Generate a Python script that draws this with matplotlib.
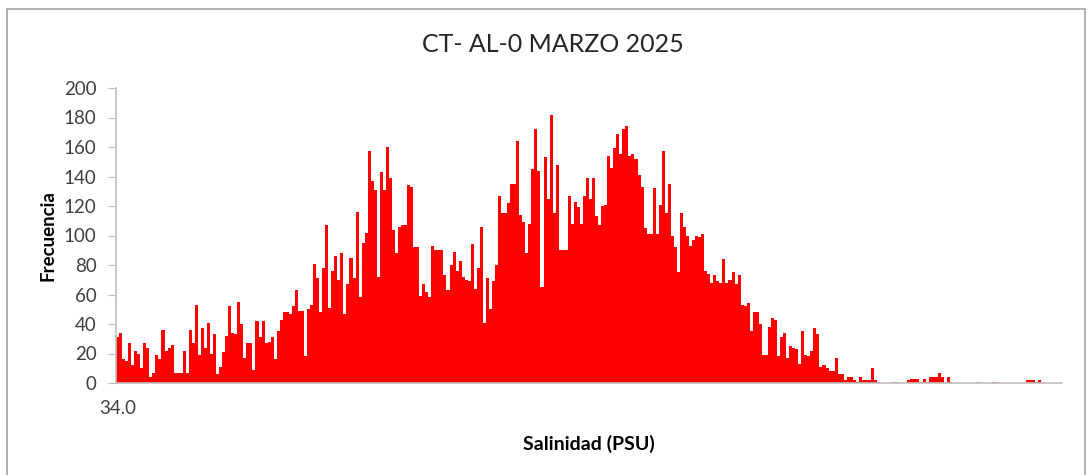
import numpy as np
import matplotlib.pyplot as plt
from matplotlib.patches import Rectangle

# Frequency of salinity values per bin, read left to right (first bin = 34.0)
seg_1 = [31, 34, 16, 15, 27, 12, 22, 20, 10, 27, 24, 4, 7, 19, 16, 36, 22, 24, 26, 7,
         7, 7, 22, 7, 36, 27, 53, 19, 37, 24, 41, 20, 33, 6, 11, 21, 32]
seg_2 = [52, 34, 33, 55, 40, 17, 27, 27, 9, 42, 31, 42, 27, 28, 31, 16, 35, 43, 48, 48,
         47, 52, 63, 49, 49, 18, 50, 53, 81, 71, 48, 78, 107, 51, 76, 86, 70, 88, 47, 67, 85]
seg_3 = [71, 116, 58, 95, 102, 157, 137, 131, 72, 143, 131, 160, 139, 104, 88, 106, 107,
         107, 134, 133, 92, 92, 59, 67, 62, 58, 93, 90, 90, 90, 73, 63, 80, 89, 76, 83, 72,
         70, 69, 94, 64]
seg_4 = [78, 106, 41, 71, 50, 69, 80, 127, 115, 115, 122, 135, 135, 164, 114, 109, 88,
         108, 145, 172, 144, 65, 153, 125, 182, 115, 148, 90, 90, 90, 127, 108, 123, 119,
         108, 127, 139, 125, 139, 113, 107]
seg_5 = [120, 121, 154, 146, 159, 169, 155, 172, 174, 154, 155, 152, 141, 133, 105, 101,
         101, 132, 101, 121, 157, 115, 135, 100, 92, 75, 115, 106, 100, 93, 97, 100, 99,
         101, 76, 74, 68, 73, 69, 68, 84, 68]
seg_6 = [70, 75, 67, 73, 53, 52, 54, 35, 48, 48, 40, 19, 19, 38, 44, 43, 18, 31, 34, 17,
         25, 24, 23, 13, 35, 19, 18, 22, 37, 33, 11, 12, 10, 8, 8, 17, 6, 6, 2, 4, 4]
seg_7 = [2, 1, 4, 2, 2, 2, 10, 2, 1, 0, 0, 0, 0, 1, 1, 0, 0, 0, 2, 3, 3, 3, 1, 3, 1, 4,
         4, 4, 7, 4, 0, 4, 1, 0, 0, 0, 0, 0, 0, 0, 0, 1, 0, 0, 0, 0, 1, 1, 0, 0, 0, 0, 0,
         0, 0, 0, 0, 2, 2, 2, 1, 2, 0, 0, 0, 0, 0, 0, 0]

frecuencia = seg_1 + seg_2 + seg_3 + seg_4 + seg_5 + seg_6 + seg_7
first_label = "34.0"
y_ticks = [0, 20, 40, 60, 80, 100, 120, 140, 160, 180, 200]

plt.rcParams['font.family'] = ['Lato', 'DejaVu Sans']
text_color = '#404040'
axis_color = '#bfbfbf'

fig = plt.figure(figsize=(10.91, 4.75), dpi=100)
ax = fig.add_axes([116 / 1091, 92 / 475, 946 / 1091, 295 / 475])

x = np.arange(len(frecuencia))
ax.bar(x, frecuencia, width=1.0, color='#ff0000', linewidth=0)

ax.set_xlim(-0.5, len(frecuencia) - 0.5)
ax.set_ylim(0, 200)
ax.set_yticks(y_ticks)
ax.set_xticks([0])
ax.set_xticklabels([first_label])

for side in ('top', 'right'):
    ax.spines[side].set_visible(False)
for side in ('left', 'bottom'):
    ax.spines[side].set_color(axis_color)
    ax.spines[side].set_linewidth(1.2)

ax.tick_params(axis='y', length=6, color=axis_color, labelsize=13.5,
               labelcolor=text_color, pad=8)
ax.tick_params(axis='x', length=0, labelsize=13.5, labelcolor=text_color, pad=12)

# title is centred on the chart frame, not on the plot area
fig.text(553 / 1091, 1 - 45 / 475, 'CT- AL-0 MARZO 2025', fontsize=18,
         color='#262626', ha='center', va='center')
ax.set_xlabel('Salinidad (PSU)', fontsize=14, fontweight='bold', color='black',
              labelpad=13)
ax.set_ylabel('Frecuencia', fontsize=13.5, fontweight='bold', color='black',
              labelpad=5)

# chart frame
fig.patches.append(Rectangle((7 / 1091, -0.05), 1078 / 1091, 1.05 - 9 / 475,
                             transform=fig.transFigure, fill=False,
                             edgecolor='#a6a6a6', linewidth=1.2))

fig.savefig('out.png', dpi=100)
